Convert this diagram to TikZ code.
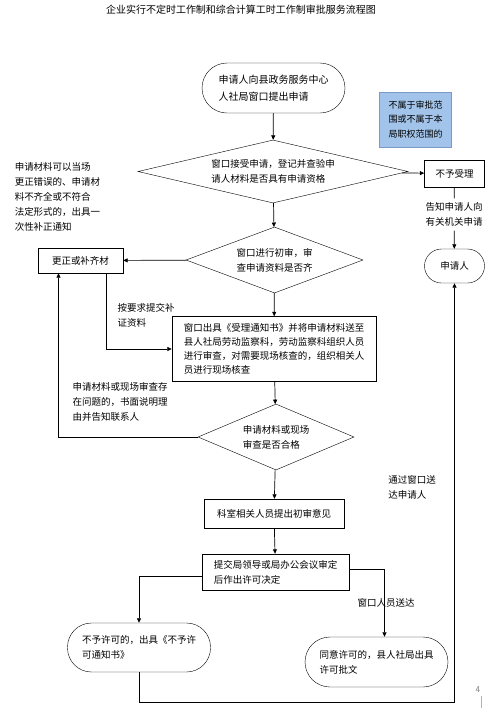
\documentclass[tikz,border=0pt]{standalone}
\usepackage{fontspec}
\usepackage{tikz}
\usetikzlibrary{arrows.meta}
\usetikzlibrary{shapes.geometric}
\newfontfamily\cjk{Noto Sans CJK SC}
\definecolor{lblue}{RGB}{163,196,234}
\definecolor{bblue}{RGB}{120,155,200}
\tikzstyle{txt} =[font=\cjk\fontsize{9.5}{15}\selectfont,inner sep=0pt,align=left]
\tikzstyle{term}=[txt,draw,rounded corners=24pt,minimum width=143pt,minimum height=49pt]
\tikzstyle{proc}=[txt,draw,minimum height=27pt]
\tikzstyle{dec} =[txt,draw,diamond]
\tikzstyle{flw} =[line width=.7pt,-{Triangle[length=4.5pt,width=4pt]}]
\tikzstyle{ln}  =[line width=.7pt]
\begin{document}
\begin{tikzpicture}[x=1pt,y=-1pt]
	\useasboundingbox (0,0) rectangle (492,710);
	\node[txt,font=\cjk\fontsize{10}{12}\selectfont] (title) at (241,10) {企业实行不定时工作制和综合计算工时工作制审批服务流程图};
	\node[term,minimum height=50pt,rounded corners=25pt,font=\cjk\fontsize{10}{17}\selectfont] (start) at (273.5,88) {申请人向县政务服务中心\\人社局窗口提出申请};
	\node[txt,draw=bblue,fill=lblue,minimum width=72pt,minimum height=55pt,font=\cjk\fontsize{9}{14.5}\selectfont] (scope) at (415.5,119.5) {不属于审批范\\围或不属于本\\局职权范围的};
	\node[dec,minimum width=270pt,minimum height=63pt,aspect=4.3] (d1) at (273,171.5) {窗口接受申请，登记并查验申\\请人材料是否具有申请资格};
	\node[proc,minimum width=60pt] (reject) at (454.5,173.5) {不予受理};
	\node[txt,inner ysep=4pt] (tell) at (454,214.5) {告知申请人向\\有关机关申请};
	\node[term,minimum width=60pt,minimum height=34pt,rounded corners=17pt] (app) at (454.5,266) {申请人};
	\node[txt] (once) at (57.5,197) {申请材料可以当场\\更正错误的、申请材\\料不齐全或不符合\\法定形式的，出具一\\次性补正通知};
	\node[dec,minimum width=177pt,minimum height=66pt,aspect=2.68] (d2) at (274.5,260) {窗口进行初审，审\\查申请资料是否齐};
	\node[proc,minimum width=85pt,minimum height=25pt] (fix) at (80.5,260.5) {更正或补齐材};
	\node[txt] (supp) at (146,315) {按要求提交补\\证资料};
	\node[proc,minimum width=204pt,minimum height=65pt,font=\cjk\fontsize{9.5}{14}\selectfont] (box3) at (274,349) {窗口出具《受理通知书》并将申请材料送至\\县人社局劳动监察科，劳动监察科组织人员\\进行审查，对需要现场核查的，组织相关人\\员进行现场核查};
	\node[txt] (prob) at (120,402) {申请材料或现场审查存\\在问题的，书面说明理\\由并告知联系人};
	\node[dec,minimum width=156pt,minimum height=66pt,aspect=2.36] (d3) at (276,437) {申请材料或现场\\审查是否合格};
	\node[proc,minimum width=140pt,minimum height=29pt] (box4) at (274,513.5) {科室相关人员提出初审意见};
	\node[proc,minimum width=147pt,minimum height=36pt] (box5) at (275.5,572) {提交局领导或局办公会议审定\\后作出许可决定};
	\node[term] (deny) at (139,647.5) {不予许可的，出具《不予许\\可通知书》};
	\node[term,minimum height=50pt,rounded corners=25pt] (grant) at (376.5,662) {同意许可的，县人社局出具\\许可批文};
	\node[txt] (deliv) at (386,603) {窗口人员送达};
	\node[txt] (send) at (412,487.5) {通过窗口送\\达申请人};
	\node[txt,text=gray,font=\sffamily\fontsize{9}{10}\selectfont] (page) at (478,690) {4};
	\draw[gray!60,line width=.6pt] (481,696) -- (481,708);
	% main line
	\draw[flw] (start) -- (d1);
	\draw[flw] (d1) -- (reject);
	\draw[ln]  (reject) -- (tell);
	\draw[flw] (tell) -- (app);
	\draw[flw] (d1) -- (d2);
	\draw[flw] (d2) -- (fix);
	\draw[flw] ([xshift=26pt]fix.south) |- (box3.west);
	\draw[flw] (d2) -- (box3);
	\draw[flw] (box3) -- (d3);
	\draw[flw] (d3.west) -| ([xshift=-22pt]fix.south);
	\draw[flw] (d3) -- (box4);
	\draw[flw] (box4) -- (box5);
	\draw[flw] ([yshift=-4pt]box5.west) -| (deny.north);
	\draw[flw] ([yshift=3pt]box5.east) -| ([xshift=8pt]grant.north);
	\draw[flw] (deny.south) -- ++(0,30) -| (app.south);
\end{tikzpicture}
\end{document}
